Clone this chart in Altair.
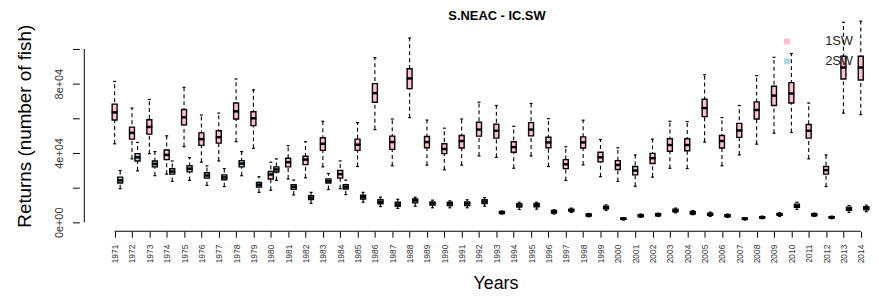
import altair as alt
import pandas as pd

years = list(range(1971, 2015))

# 1SW box statistics (number of fish)
sw1_hi = [81300, 65900, 70900, 49900, 77900, 61900, 63000, 82700, 76400, 34700,
          44200, 46500, 58300, 35400, 57500, 95000, 59600, 106300, 59000, 54300,
          59600, 69300, 67400, 55400, 68600, 59800, 43600, 58900, 47800, 43000,
          38900, 48000, 58300, 58100, 85100, 60400, 67400, 84600, 95200, 97300,
          68800, 38900, 115400, 116000]
sw1_q3 = [68200, 54900, 59200, 41700, 65100, 51600, 52800, 68800, 63800, 29300,
          37000, 38100, 48800, 29900, 48000, 80000, 49700, 88600, 49500, 45300,
          50100, 57700, 56600, 46500, 57500, 49100, 36200, 49300, 40400, 35600,
          32200, 39800, 48200, 48200, 71000, 50100, 57100, 69500, 78500, 80600,
          56400, 32200, 95800, 95800]
sw1_med = [63400, 51600, 55000, 38900, 60600, 48000, 49100, 64000, 60000, 27600,
           34700, 36200, 45300, 27800, 44800, 74500, 46300, 83000, 46300, 42300,
           46900, 53500, 52800, 43400, 53500, 46100, 33500, 46100, 37500, 33100,
           29900, 37000, 44600, 44600, 65900, 46900, 53000, 64800, 73100, 74300,
           52800, 30100, 89300, 89300]
sw1_q1 = [59000, 48000, 50900, 36200, 56200, 44400, 45700, 59600, 55800, 25000,
          32000, 33300, 41500, 25500, 41500, 69300, 42100, 77100, 43000, 39600,
          42900, 49700, 48600, 40400, 49900, 43000, 31000, 42900, 34900, 30500,
          27400, 33900, 41000, 41300, 61000, 42900, 49000, 59600, 67400, 68800,
          48600, 27800, 82700, 82100]
sw1_lo = [45300, 36600, 39600, 27800, 43600, 34700, 35400, 46500, 42700, 18500,
          25000, 25700, 32000, 19400, 32200, 53500, 32600, 60400, 33000, 30300,
          33000, 38300, 37500, 31200, 38300, 32200, 24200, 33100, 26300, 23600,
          20800, 26100, 31200, 31000, 46300, 32600, 38900, 45100, 51400, 51800,
          36600, 20600, 63000, 62100]

# 2SW box statistics (number of fish)
sw2_hi = [29900, 46100, 40800, 35400, 37300, 32600, 31000, 40800, 26300, 36600,
          24400, 17300, 28200, 24400, 17300, 14500, 13300, 14500, 12800, 12400,
          13000, 14300, 6500, 11600, 11600, 7200, 8200, 5100, 10100, 2700,
          4800, 5300, 8200, 6700, 5900, 4800, 2700, 3600, 5500, 11600,
          5300, 3600, 9700, 9900]
sw2_q3 = [26100, 39600, 35400, 30900, 32600, 28600, 27400, 35600, 23000, 32000,
          21700, 15400, 25100, 21700, 15600, 13000, 11600, 13500, 11800, 11600,
          11800, 13000, 6300, 10700, 10900, 6900, 7600, 4800, 9300, 2500,
          4400, 5000, 7600, 6300, 5300, 4400, 2500, 3200, 5100, 10500,
          5000, 3200, 8800, 9000]
sw2_med = [24200, 37500, 33700, 29300, 30900, 27000, 25900, 33900, 21700, 30500,
           20400, 14300, 23800, 20400, 14700, 11800, 10300, 12600, 10900, 10900,
           10900, 12000, 5700, 9700, 9900, 6100, 7000, 4200, 8600, 2100,
           3800, 4400, 6900, 5500, 4600, 3800, 2100, 2900, 4600, 9500,
           4400, 2900, 7800, 8200]
sw2_q1 = [22700, 35400, 32000, 27800, 29100, 25500, 24600, 32000, 20400, 29000,
          19000, 13100, 22700, 19200, 13500, 10700, 9300, 11200, 9900, 9700,
          9700, 10900, 5100, 8800, 9000, 5300, 6500, 3600, 7800, 1700,
          3200, 3800, 6100, 4800, 4000, 3200, 1700, 2500, 4000, 8600,
          3800, 2500, 6900, 7200]
sw2_lo = [19400, 29700, 26900, 23600, 24200, 21300, 20600, 26900, 17300, 24200,
          15800, 11000, 18900, 16000, 11600, 9100, 8000, 9300, 8400, 8400,
          8400, 9300, 4800, 7400, 7600, 4800, 5700, 3200, 6900, 1300,
          2900, 3400, 5500, 4400, 3400, 2900, 1300, 2100, 3400, 7400,
          3400, 2100, 5700, 6100]

series_names = ["1SW", "2SW"]
series_colors = ["#FFC0CB", "#ADD8E6"]

y_ticks = [0, 20000, 40000, 60000, 80000, 100000]
y_tick_labels = ["0e+00", "", "4e+04", "", "8e+04", ""]

rows = []
stats = {
    "1SW": (sw1_lo, sw1_q1, sw1_med, sw1_q3, sw1_hi),
    "2SW": (sw2_lo, sw2_q1, sw2_med, sw2_q3, sw2_hi),
}
for i, yr in enumerate(years):
    for s in series_names:
        lo, q1, med, q3, hi = stats[s]
        rows.append(dict(year=yr, series=s, lo=lo[i], q1=q1[i], med=med[i], q3=q3[i], hi=hi[i]))
df = pd.DataFrame(rows)

label_expr = " : ".join(
    f"datum.value == {v} ? '{t}'" for v, t in zip(y_ticks, y_tick_labels)
) + " : ''"

W, H = 799, 216
xdom = [1969.252, 2014.304]
ydom = [-5143, 118286]
FONT = "Liberation Sans"

xs = alt.Scale(domain=xdom, nice=False, zero=False)
ys = alt.Scale(domain=ydom, nice=False, zero=False)

base = alt.Chart(df).transform_calculate(
    xpos="datum.series == '2SW' ? datum.year + 0.32 : datum.year"
)

x_axis = alt.Axis(
    values=years, format="d", labelAngle=270, labelAlign="right", labelBaseline="middle",
    labelFontSize=8.5, labelFont=FONT, labelColor="#333", labelPadding=7, labelOverlap=False,
    labelFlush=False, tickSize=6, tickColor="black", domain=False, grid=False,
    title="Years", titleFont=FONT, titleFontSize=18, titleFontWeight="normal",
    titleColor="black", titleX=420, titleY=58, titleAlign="center", titleBaseline="alphabetic",
)
y_axis = alt.Axis(
    values=y_ticks, labelExpr=label_expr, labelAngle=270, labelAlign="center",
    labelBaseline="bottom", labelFontSize=11, labelFont=FONT, labelColor="#333",
    labelPadding=8, labelOverlap=False, labelFlush=False, tickSize=7, tickColor="black",
    domain=False, grid=False,
    title="Returns (number of fish)", titleFont=FONT, titleFontSize=19,
    titleFontWeight="normal", titleColor="black", titleAngle=270, titleX=-49, titleY=109.5,
    titleAlign="center", titleBaseline="alphabetic",
)


def X(field):
    return alt.X(field, scale=xs, axis=x_axis)


def Y(field):
    return alt.Y(field, scale=ys, axis=y_axis)


whisk = base.mark_rule(color="black", strokeWidth=1.1, strokeDash=[4, 3]).encode(
    x=X("xpos:Q"), y=Y("lo:Q"), y2="hi:Q",
)
cap_hi = base.mark_tick(orient="horizontal", size=3, thickness=1.2, color="black", opacity=1).encode(
    x=X("xpos:Q"), y=Y("hi:Q"),
)
cap_lo = base.mark_tick(orient="horizontal", size=3, thickness=1.2, color="black", opacity=1).encode(
    x=X("xpos:Q"), y=Y("lo:Q"),
)
box = base.mark_bar(size=5, stroke="black", strokeWidth=1.4, opacity=1).encode(
    x=X("xpos:Q"), y=Y("q1:Q"), y2="q3:Q",
    color=alt.Color(
        "series:N",
        scale=alt.Scale(domain=series_names, range=series_colors),
        legend=alt.Legend(
            title=None, orient="none", legendX=707.7, legendY=18, symbolType="square",
            symbolSize=36, symbolStrokeWidth=0, symbolOpacity=1, labelFontSize=13,
            labelFont=FONT, labelColor="#222", labelOffset=32, rowPadding=6, padding=0,
        ),
    ),
)
median = base.mark_tick(orient="horizontal", size=6, thickness=2.5, color="black", opacity=1).encode(
    x=X("xpos:Q"), y=Y("med:Q"),
)

axis_src = alt.Chart(pd.DataFrame({"k": [0]}))
xline = axis_src.mark_rule(color="black", strokeWidth=1).encode(
    x=alt.datum(years[0], scale=xs, axis=x_axis), x2=alt.datum(years[-1]),
    y=alt.datum(ydom[0], scale=ys, axis=y_axis)
)
yline = axis_src.mark_rule(color="black", strokeWidth=1).encode(
    x=alt.datum(xdom[0], scale=xs, axis=x_axis),
    y=alt.datum(y_ticks[0], scale=ys, axis=y_axis), y2=alt.datum(y_ticks[-1])
)

chart = alt.layer(whisk, cap_hi, cap_lo, box, median, xline, yline).properties(
    width=W,
    height=H,
    padding={"left": 72, "top": 8, "right": 0, "bottom": 63},
    autosize=alt.AutoSizeParams(type="none"),
    title=alt.TitleParams(
        text="S.NEAC - IC.SW", font=FONT, fontSize=13, fontWeight="bold", color="black",
        anchor="middle", frame="group", dx=22, dy=15.5, offset=0, baseline="alphabetic",
    ),
).configure(background="white").configure_view(strokeWidth=0)

chart.save("out.html", embed_options={"renderer": "svg", "actions": False})
